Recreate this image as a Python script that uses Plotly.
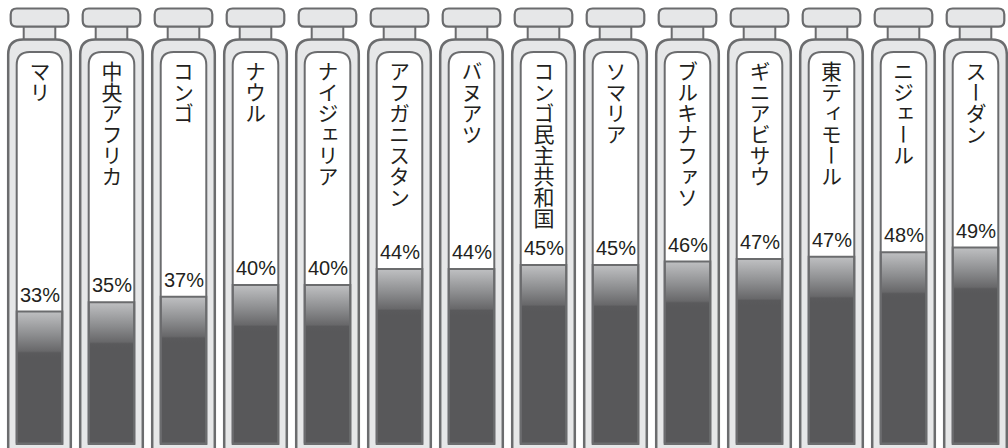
import plotly.graph_objects as go

# ---------------- data ----------------
countries = ["マリ", "中央アフリカ", "コンゴ", "ナウル", "ナイジェリア", "アフガニスタン",
             "バヌアツ", "コンゴ民主共和国", "ソマリア", "ブルキナファソ", "ギニアビサウ",
             "東ティモール", "ニジェール", "スーダン"]
values = [33.0, 35.3, 36.7, 39.6, 39.6, 43.6, 43.6, 44.6, 44.6, 45.5, 46.1, 46.7, 47.8, 49.0]
labels = ["33%", "35%", "37%", "40%", "40%", "44%", "44%", "45%", "45%", "46%",
          "47%", "47%", "48%", "49%"]

# ---------------- layout geometry ----------------
W, H = 1008, 448
COL = 72.0          # px per category
X0_PX = 39.5        # px centre of first tube
ZERO_PX = 443.5     # px (from top) of 0 %
PX_PER_UNIT = 4.0   # px per 1 %

x_range = [-X0_PX / COL, (W - X0_PX) / COL]
y_range = [-(H - ZERO_PX) / PX_PER_UNIT, ZERO_PX / PX_PER_UNIT]

STROKE = "#6b6c6e"
LIGHT = "#e6e7e8"
TEXT = "#231f20"


def pt(i, dx, py):
    return f"{i + dx / COL:.5f},{1 - py / H:.5f}"


def rrect(i, dx0, dx1, py0, py1, rt, rb=0):
    s = (f"M{pt(i, dx0 + rt, py0)} L{pt(i, dx1 - rt, py0)} "
         f"Q{pt(i, dx1, py0)} {pt(i, dx1, py0 + rt)} L{pt(i, dx1, py1 - rb)} ")
    if rb:
        s += f"Q{pt(i, dx1, py1)} {pt(i, dx1 - rb, py1)} "
    s += f"L{pt(i, dx0 + rb, py1)} "
    if rb:
        s += f"Q{pt(i, dx0, py1)} {pt(i, dx0, py1 - rb)} "
    s += f"L{pt(i, dx0, py0 + rt)} Q{pt(i, dx0, py0)} {pt(i, dx0 + rt, py0)} Z"
    return s


shapes = []
for i in range(len(countries)):
    # neck
    shapes.append(dict(type="path", xref="x", yref="paper", layer="below",
                       path=rrect(i, -15.8, 15.8, 24, 42, 0),
                       fillcolor=LIGHT, line=dict(color=STROKE, width=2)))
    # cap
    shapes.append(dict(type="path", xref="x", yref="paper", layer="below",
                       path=rrect(i, -28.8, 28.8, 8.5, 26.7, 6, 6),
                       fillcolor=LIGHT, line=dict(color=STROKE, width=2.2)))
    # outer tube
    shapes.append(dict(type="path", xref="x", yref="paper", layer="below",
                       path=rrect(i, -31.3, 31.3, 39.5, 470, 15),
                       fillcolor=LIGHT, line=dict(color=STROKE, width=2.5)))
    # inner tube (white)
    shapes.append(dict(type="path", xref="x", yref="paper", layer="below",
                       path=rrect(i, -22.8, 22.8, 52, 444, 13),
                       fillcolor="white", line=dict(width=0)))
    # inner tube outline (above fill)
    shapes.append(dict(type="path", xref="x", yref="paper", layer="above",
                       path=rrect(i, -22.8, 22.8, 52, 444, 13),
                       fillcolor="rgba(0,0,0,0)", line=dict(color=STROKE, width=2)))

fig = go.Figure()
HW = 22.8 / COL
for i, v in enumerate(values):
    fig.add_trace(go.Scatter(
        x=[i - HW, i + HW, i + HW, i - HW, i - HW],
        y=[0, 0, v, v, 0],
        mode="lines", fill="toself",
        line=dict(color=STROKE, width=2),
        fillgradient=dict(type="vertical", start=v, stop=v - 11.5,
                          colorscale=[[0, "#bfc0c2"], [0.5, "#8d8e90"],
                                      [0.86, "#68686a"], [0.9, "#5a5a5c"], [1, "#58585a"]]),
        hoverinfo="skip", showlegend=False))

annotations = []
for i, (name, v, lab) in enumerate(zip(countries, values, labels)):
    annotations.append(dict(x=i, y=v, xref="x", yref="y", text=lab, showarrow=False,
                            yanchor="bottom", xanchor="center", yshift=4,
                            font=dict(family="Liberation Sans, Arial", size=20, color=TEXT)))
    # country name: set vertically (tategaki) by the post script below
    annotations.append(dict(x=i, y=1 - 58.5 / H, xref="x", yref="paper",
                            text=name, showarrow=False,
                            yanchor="top", xanchor="center",
                            font=dict(family="Noto Sans CJK JP", size=21, color=TEXT)))

fig.update_layout(
    width=W, height=H, margin=dict(l=0, r=0, t=0, b=0),
    paper_bgcolor="white", plot_bgcolor="white",
    xaxis=dict(range=x_range, visible=False, fixedrange=True),
    yaxis=dict(range=y_range, visible=False, fixedrange=True),
    shapes=shapes, annotations=annotations, showlegend=False,
)

post = r'''
document.body.style.margin = '0';
document.body.style.padding = '0';
var gd = document.getElementById('{plot_id}');
function fixLabels(){
  gd.querySelectorAll('text.annotation-text').forEach(function(t){
    if(!/[^\u0000-\u007f]/.test(t.textContent)) return;
    if(t.getAttribute('data-vert') === '1') return;
    var r0 = t.getBoundingClientRect();
    var cx0 = r0.left + r0.width / 2, top0 = r0.top;
    t.setAttribute('writing-mode', 'vertical-rl');
    t.style.writingMode = 'vertical-rl';
    t.setAttribute('text-anchor', 'start');
    t.style.textAnchor = 'start';
    var r1 = t.getBoundingClientRect();
    var dx = cx0 - (r1.left + r1.width / 2), dy = top0 - r1.top;
    var tr = t.getAttribute('transform') || '';
    t.setAttribute('transform', 'translate(' + dx + ',' + dy + ') ' + tr);
    t.setAttribute('data-vert', '1');
  });
}
fixLabels();
if (gd.on) { gd.on('plotly_afterplot', fixLabels); }
'''

fig.write_html("out.html", post_script=post, config={"displayModeBar": False})
